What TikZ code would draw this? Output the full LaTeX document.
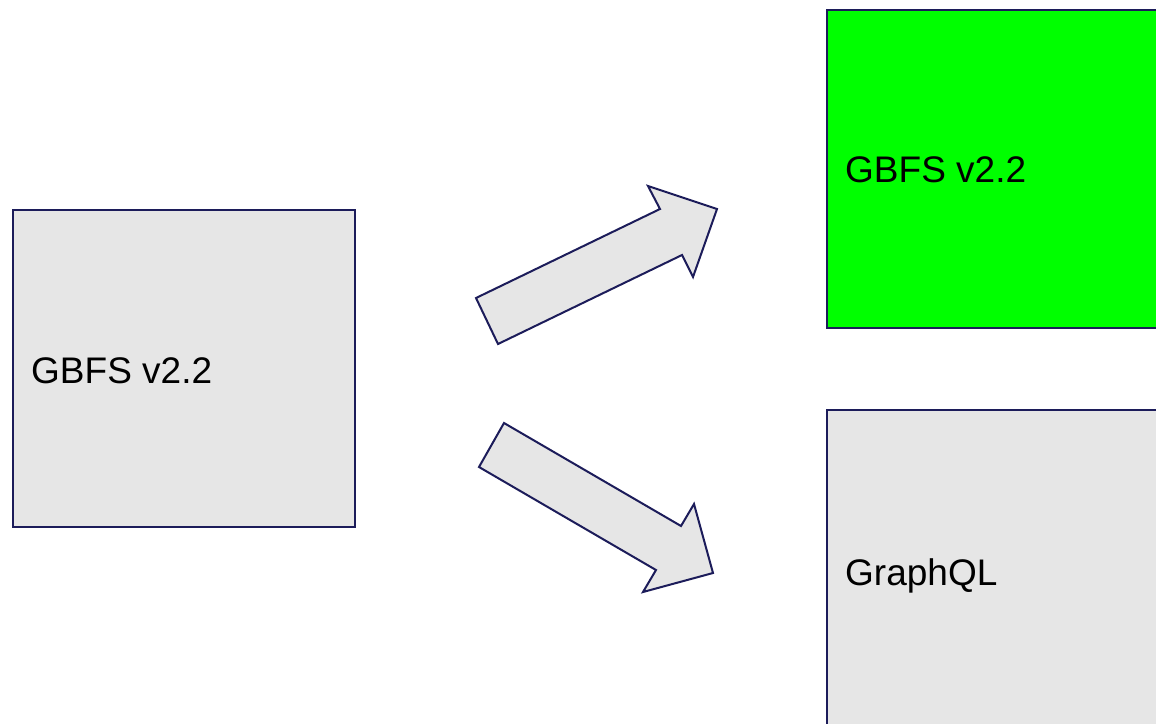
\documentclass[tikz,border=0pt]{standalone}
\usepackage{fontspec}
\setmainfont{Liberation Sans}
\definecolor{edge}{RGB}{28,28,90}
\definecolor{boxgray}{RGB}{230,230,230}
\definecolor{boxgreen}{RGB}{0,255,0}
\begin{document}
\begin{tikzpicture}[x=1pt,y=-1pt,
  box/.style={draw=edge, line width=1.8pt, rectangle, inner sep=0pt, anchor=north west},
  lbl/.style={font=\fontsize{37}{40}\selectfont, anchor=base west, inner sep=0pt, text=black},
  blockarrow/.style={draw=edge, fill=boxgray, line width=2pt, line join=miter}]
\useasboundingbox (0,0) rectangle (1156,723);
\clip (0,0) rectangle (1156,723);
\fill[white] (0,0) rectangle (1156,723);
% boxes
\node[box, fill=boxgray, minimum width=342pt, minimum height=317pt] (src) at (12,209) {};
\node[box, fill=boxgreen, minimum width=345pt, minimum height=318pt] (out1) at (826,9) {};
\node[box, fill=boxgray, minimum width=345pt, minimum height=340pt] (out2) at (826,409) {};
% labels
\node[lbl] (srclbl) at (31,383) {GBFS v2.2};
\node[lbl] (out1lbl) at (845,182) {GBFS v2.2};
\node[lbl] (out2lbl) at (845,585) {GraphQL};
% block arrows
\draw[blockarrow] (476,298) -- (660,209) -- (648,186) -- (717,209) -- (693,277) -- (682,255) -- (498,344) -- cycle;
\draw[blockarrow] (504,423) -- (681,526) -- (694,504) -- (713,573) -- (643,592) -- (656,570) -- (479,467) -- cycle;
\end{tikzpicture}
\end{document}
